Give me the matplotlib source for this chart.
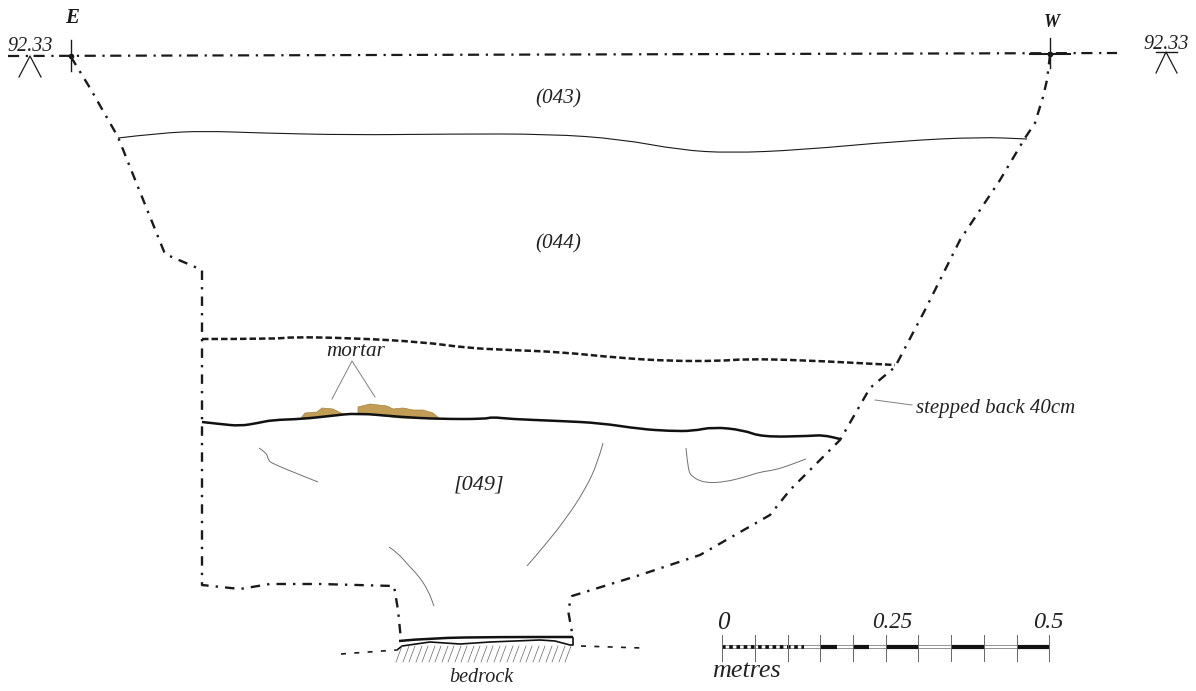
import matplotlib
matplotlib.use('Agg')
import matplotlib.pyplot as plt
from matplotlib.path import Path
from matplotlib.patches import PathPatch

# everything in image pixels
datum_x = [8, 1117]
datum_y = [56, 53]

left_edge_x = [71, 90, 118, 138, 165, 202, 202, 202, 240, 270, 320, 394, 398, 401]
left_edge_y = [57, 88, 137, 187, 254, 270, 420, 585, 589, 584, 584, 586, 610, 640]
right_edge_x = [1050, 1047, 1043, 1035, 1025, 1000, 960, 925, 895, 870, 840, 815, 790, 770, 700, 640, 572, 568, 573]
right_edge_y = [55, 80, 97, 123, 138, 180, 240, 310, 367, 388, 440, 465, 490, 515, 555, 575, 596, 610, 638]

boundary_x = [118, 160, 205, 260, 350, 450, 550, 620, 680, 730, 800, 900, 980, 1027]
boundary_y = [138, 133, 131, 133, 135, 134, 134, 139, 150, 153, 150, 141, 137, 139]

dashed_x = [202, 277, 290, 350, 423, 467, 510, 560, 620, 670, 720, 745, 800, 895]
dashed_y = [339, 339, 337, 338, 342, 348, 350, 352, 358, 361, 361, 359, 360, 365]

thick_x = [202, 220, 240, 258, 272, 302, 330, 357, 400, 440, 485, 492, 510, 560, 600, 640, 670, 693, 713, 743, 762, 810, 823, 840]
thick_y = [422, 424, 426, 423, 420, 419, 416, 413, 417, 419, 419, 417, 419, 421, 423, 429, 431, 431, 427, 430, 437, 436, 435, 439]

mortar_a_x = [301, 305, 317, 322, 333, 343, 320]
mortar_a_y = [418, 413, 412, 408, 409, 414, 416]
mortar_b_x = [358, 358, 370, 387, 393, 403, 413, 423, 433, 440, 400, 375]
mortar_b_y = [413, 407, 404, 406, 409, 408, 410, 410, 413, 419, 418, 415]

thin_lines = [
    ([259, 267, 268, 273, 318], [448, 453, 460, 464, 482]),
    ([603, 598, 585, 565, 545, 527], [443, 462, 490, 520, 545, 566]),
    ([686, 688, 692, 705, 725, 745, 760, 775, 790, 806], [448, 470, 477, 483, 482, 477, 472, 470, 465, 459]),
    ([389, 398, 408, 418, 428, 434], [547, 553, 565, 575, 590, 606]),
]
leaders = [
    ([332, 352, 375], [399, 361, 397]),
    ([875, 912], [400, 405]),
]

bed_top_x = [399, 430, 500, 573]
bed_top_y = [641, 638, 637, 637]
bed_low_x = [397, 402, 430, 460, 490, 540, 555, 570, 573, 573]
bed_low_y = [650, 646, 642, 644, 642, 640, 641, 645, 645, 638]
bed_dash_l_x = [341, 396]
bed_dash_l_y = [654, 650]
bed_dash_r_x = [581, 642]
bed_dash_r_y = [646, 648]
hatch_x = [402, 409, 415, 422, 428, 435, 441, 448, 454, 461, 467, 474, 480, 487, 493, 500, 506, 513, 519, 526, 532, 539, 545, 552, 558, 565, 571]

scale_ticks = [722, 755, 788, 820, 853, 886, 918, 951, 984, 1017, 1049]
scale_dotted = [722, 804]
scale_black = [(820, 837), (853, 869), (886, 918), (951, 984), (1017, 1049)]

labels = [
    ('92.33', 30, 46, 14.5),
    ('92.33', 1166, 44, 14.5),
    ('(043)', 558, 99, 15.2),
    ('(044)', 558, 244, 15.2),
    ('mortar', 356, 351, 15.2),
    ('[049]', 479, 485, 16),
    ('stepped back 40cm', 996, 408, 15),
    ('bedrock', 481, 678, 14.5),
    ('metres', 746, 671, 18.8),
    ('0', 723, 623, 18),
    ('0.25', 892, 623, 16.5),
    ('0.5', 1048, 623, 17.5),
]


def smooth(xs, ys, **kw):
    # quadratic curve through the midpoints, so bends stop looking like corners
    verts = [(xs[0], ys[0])]
    codes = [Path.MOVETO]
    for i in range(1, len(xs) - 1):
        verts += [(xs[i], ys[i]), ((xs[i] + xs[i + 1]) / 2, (ys[i] + ys[i + 1]) / 2)]
        codes += [Path.CURVE3, Path.CURVE3]
    verts.append((xs[-1], ys[-1]))
    codes.append(Path.LINETO)
    ax.add_patch(PathPatch(Path(verts, codes), fc='none', **kw))


plt.rcParams['font.family'] = ['Liberation Serif', 'DejaVu Serif']

fig = plt.figure(figsize=(11.96, 6.91), dpi=100, facecolor='white')
ax = fig.add_axes([0, 0, 1, 1])
ax.set_xlim(0, 1196)
ax.set_ylim(691, 0)
ax.axis('off')

dashdot = (0, (4, 3, 1, 3))
k = '#1a1a1a'

ax.plot(datum_x, datum_y, c=k, lw=1.6, ls=(0, (5, 3, 1, 2.5)))
ax.plot(left_edge_x, left_edge_y, c=k, lw=1.7, ls=dashdot)
ax.plot(right_edge_x, right_edge_y, c=k, lw=1.7, ls=dashdot)
smooth(boundary_x, boundary_y, ec=k, lw=0.8)
smooth(dashed_x, dashed_y, ec=k, lw=1.8, ls=(0, (2.6, 1.2)))

ax.fill(mortar_a_x, mortar_a_y, fc='#c19d56', ec='#a5843f', lw=0.5)
ax.fill(mortar_b_x, mortar_b_y, fc='#c19d56', ec='#a5843f', lw=0.5)
smooth(thick_x, thick_y, ec='#111111', lw=1.8)

for xs, ys in thin_lines:
    smooth(xs, ys, ec='#707070', lw=0.7)
for xs, ys in leaders:
    ax.plot(xs, ys, c='#808080', lw=0.7)

# station marks at the two ends of the datum
ax.plot([71, 71], [40, 71], c=k, lw=1.0)
ax.plot([1050, 1050], [38, 68], c=k, lw=1.0)
ax.plot([71, 1050], [56, 54], ls='none', marker='o', ms=3, c=k)
ax.plot([1030, 1070], [54, 54], c=k, lw=1.5)
ax.plot([19, 30, 41], [77, 56, 77], c=k, lw=0.9)
ax.plot([1156, 1166, 1177], [73, 52, 73], c=k, lw=0.9)
ax.plot([1156, 1177], [52, 52], c=k, lw=1.0)
ax.text(72, 18, 'E', ha='center', va='center', fontsize=15, style='italic', weight='bold', color=k)
ax.text(1052, 22, 'W', ha='center', va='center', fontsize=13, style='italic', weight='bold', color=k)

# bedrock
smooth(bed_top_x, bed_top_y, ec='#111111', lw=1.8)
ax.plot(bed_low_x, bed_low_y, c='#111111', lw=1.2)
ax.plot(bed_dash_l_x, bed_dash_l_y, c=k, lw=1.2, ls=(0, (3, 5)))
ax.plot(bed_dash_r_x, bed_dash_r_y, c=k, lw=1.2, ls=(0, (3, 5)))
for x in hatch_x:
    ax.plot([x, x - 6], [646, 662], c='#666666', lw=0.5)

# scale bar
ax.plot([scale_ticks[0], scale_ticks[-1]], [647, 647], c='#777777', lw=2.6, solid_capstyle='butt')
ax.plot([scale_ticks[0], scale_ticks[-1]], [647, 647], c='white', lw=1.5, solid_capstyle='butt')
ax.plot(scale_dotted, [647, 647], c='#111111', lw=2.6, ls=(0, (1.0, 1.0)))
for x0, x1 in scale_black:
    ax.plot([x0, x1], [647, 647], c='#111111', lw=3.0, solid_capstyle='butt')
for x in scale_ticks:
    ax.plot([x, x], [635, 661], c='#666666', lw=0.7)

for txt, x, y, size in labels:
    ax.text(x, y, txt, ha='center', va='center', fontsize=size, style='italic', color='#222222')

fig.savefig('out.png', dpi=100, facecolor='white')
